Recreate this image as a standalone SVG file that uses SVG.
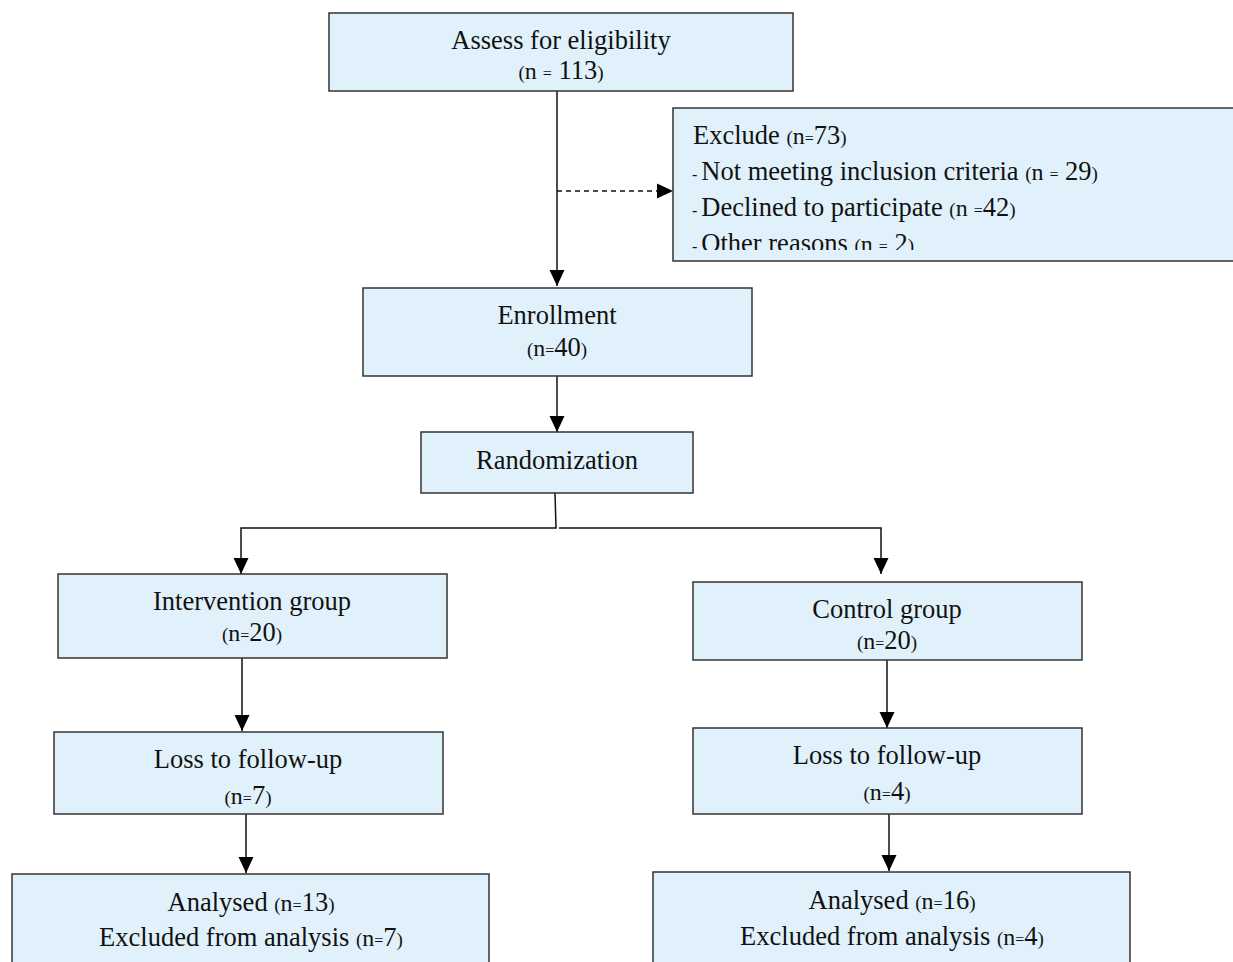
<svg xmlns="http://www.w3.org/2000/svg" width="1233" height="962" viewBox="0 0 1233 962">
<style>
.box{fill:#E1F1FB;stroke:#333;stroke-width:1.5}
text{font-family:"Liberation Serif","Times New Roman",serif;font-size:26.5px;fill:#111}
.c{text-anchor:middle}
.p{font-size:19px}
.n{font-size:24px}
.e{font-size:16px}
.d{font-size:16px}
.ln{stroke:#111;stroke-width:1.5;fill:none}
</style>
<defs>
<marker id="ah" markerWidth="16" markerHeight="16" refX="16" refY="8" orient="auto" markerUnits="userSpaceOnUse">
<path d="M0,0.5 L16,8 L0,15.5 Z" fill="#000"/>
</marker>
<clipPath id="exclip"><rect x="673" y="108" width="560" height="142"/></clipPath>
</defs>
<rect width="1233" height="962" fill="#fff"/>
<g id="connectors">
<line class="ln" x1="557" y1="91" x2="557" y2="286" marker-end="url(#ah)"/>
<line class="ln" x1="557" y1="191" x2="673" y2="191" stroke-dasharray="5,4" marker-end="url(#ah)"/>
<line class="ln" x1="557" y1="376" x2="557" y2="432" marker-end="url(#ah)"/>
<polyline class="ln" points="555,493 556,528 241,528 241,574" marker-end="url(#ah)"/>
<polyline class="ln" points="559,528 881,528 881,574" marker-end="url(#ah)"/>
<line class="ln" x1="242" y1="658" x2="242" y2="731" marker-end="url(#ah)"/>
<line class="ln" x1="887" y1="660" x2="887" y2="728" marker-end="url(#ah)"/>
<line class="ln" x1="246" y1="814" x2="246" y2="873" marker-end="url(#ah)"/>
<line class="ln" x1="889" y1="814" x2="889" y2="871" marker-end="url(#ah)"/>
</g>
<g id="assess">
<rect class="box" x="329" y="13" width="464" height="78"/>
<text class="c" x="561" y="49">Assess for eligibility</text>
<text class="c" x="561" y="79"><tspan class="p">(</tspan><tspan class="n">n </tspan><tspan class="e">=</tspan> 113<tspan class="p">)</tspan></text>
</g>
<g id="exclude">
<path class="box" d="M1234,108 L673,108 L673,261 L1234,261"/>
<g clip-path="url(#exclip)">
<text x="693" y="144">Exclude <tspan class="p">(</tspan><tspan class="n">n</tspan><tspan class="e">=</tspan>73<tspan class="p">)</tspan></text>
<text x="692" y="180"><tspan class="d">- </tspan>Not meeting inclusion criteria <tspan class="p">(</tspan><tspan class="n">n </tspan><tspan class="e">=</tspan> 29<tspan class="p">)</tspan></text>
<text x="692" y="216"><tspan class="d">- </tspan>Declined to participate <tspan class="p">(</tspan><tspan class="n">n </tspan><tspan class="e">=</tspan>42<tspan class="p">)</tspan></text>
<text x="692" y="252"><tspan class="d">- </tspan>Other reasons <tspan class="p">(</tspan><tspan class="n">n </tspan><tspan class="e">=</tspan> 2<tspan class="p">)</tspan></text>
</g>
</g>
<g id="enrollment">
<rect class="box" x="363" y="288" width="389" height="88"/>
<text class="c" x="557" y="324">Enrollment</text>
<text class="c" x="557" y="356"><tspan class="p">(</tspan><tspan class="n">n</tspan><tspan class="e">=</tspan>40<tspan class="p">)</tspan></text>
</g>
<g id="randomization">
<rect class="box" x="421" y="432" width="272" height="61"/>
<text class="c" x="557" y="469">Randomization</text>
</g>
<g id="intervention">
<rect class="box" x="58" y="574" width="389" height="84"/>
<text class="c" x="252" y="610">Intervention group</text>
<text class="c" x="252" y="641"><tspan class="p">(</tspan><tspan class="n">n</tspan><tspan class="e">=</tspan>20<tspan class="p">)</tspan></text>
</g>
<g id="control">
<rect class="box" x="693" y="582" width="389" height="78"/>
<text class="c" x="887" y="618">Control group</text>
<text class="c" x="887" y="649"><tspan class="p">(</tspan><tspan class="n">n</tspan><tspan class="e">=</tspan>20<tspan class="p">)</tspan></text>
</g>
<g id="loss-left">
<rect class="box" x="54" y="732" width="389" height="82"/>
<text class="c" x="248" y="768">Loss to follow-up</text>
<text class="c" x="248" y="804"><tspan class="p">(</tspan><tspan class="n">n</tspan><tspan class="e">=</tspan>7<tspan class="p">)</tspan></text>
</g>
<g id="loss-right">
<rect class="box" x="693" y="728" width="389" height="86"/>
<text class="c" x="887" y="764">Loss to follow-up</text>
<text class="c" x="887" y="800"><tspan class="p">(</tspan><tspan class="n">n</tspan><tspan class="e">=</tspan>4<tspan class="p">)</tspan></text>
</g>
<g id="analysed-left">
<rect class="box" x="12" y="874" width="477" height="100"/>
<text class="c" x="251" y="911">Analysed <tspan class="p">(</tspan><tspan class="n">n</tspan><tspan class="e">=</tspan>13<tspan class="p">)</tspan></text>
<text class="c" x="251" y="946">Excluded from analysis <tspan class="p">(</tspan><tspan class="n">n</tspan><tspan class="e">=</tspan>7<tspan class="p">)</tspan></text>
</g>
<g id="analysed-right">
<rect class="box" x="653" y="872" width="477" height="100"/>
<text class="c" x="892" y="909">Analysed <tspan class="p">(</tspan><tspan class="n">n</tspan><tspan class="e">=</tspan>16<tspan class="p">)</tspan></text>
<text class="c" x="892" y="945">Excluded from analysis <tspan class="p">(</tspan><tspan class="n">n</tspan><tspan class="e">=</tspan>4<tspan class="p">)</tspan></text>
</g>
</svg>
